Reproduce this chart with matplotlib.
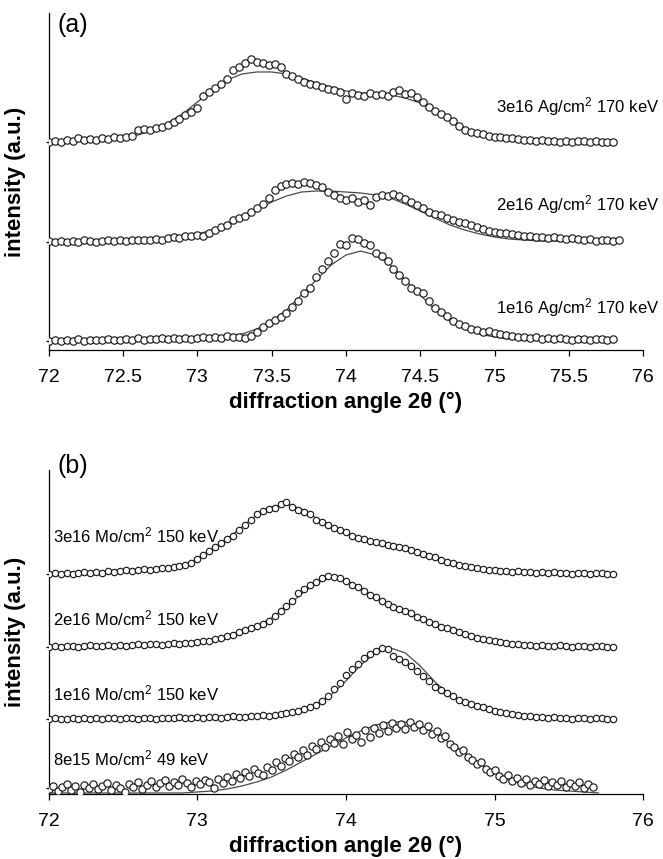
"""Stacked XRD peaks for Ag and Mo implanted samples, panels (a) and (b)."""

import numpy as np
import matplotlib
matplotlib.use("Agg")
import matplotlib.pyplot as plt
from matplotlib.ticker import FormatStrFormatter

plt.rcParams["font.family"] = ["Liberation Sans", "DejaVu Sans"]
plt.rcParams["mathtext.fontset"] = "custom"
plt.rcParams["mathtext.rm"] = "Liberation Sans"
plt.rcParams["mathtext.it"] = "Liberation Sans:italic"
plt.rcParams["mathtext.bf"] = "Liberation Sans:bold"

# ---------------------------------------------------------------------------
# Data (intensity above each curve's own baseline, a.u.)
# ---------------------------------------------------------------------------

# measured points, 0.04 deg steps from 72.00
x_meas_96 = np.round(72.0 + 0.04 * np.arange(96), 2)
x_meas_97 = np.round(72.0 + 0.04 * np.arange(97), 2)
# 8e15 Mo run, 0.03 deg steps from 72.00
x_meas_8e15 = np.round(72.0 + 0.03 * np.arange(123), 2)
# fitted curves, 0.1 deg steps
x_fit = np.round(72.0 + 0.1 * np.arange(39), 1)
x_fit_8e15 = np.round(72.0 + 0.1 * np.arange(38), 1)

ag_3e16 = [
    0.00, 0.01, 0.00, 0.02, 0.01, 0.04, 0.02, 0.03, 0.02, 0.04,
    0.03, 0.05, 0.04, 0.05, 0.06, 0.12, 0.13, 0.12, 0.14, 0.15,
    0.17, 0.20, 0.23, 0.27, 0.30, 0.34, 0.46, 0.50, 0.54, 0.58,
    0.63, 0.72, 0.75, 0.79, 0.83, 0.80, 0.79, 0.77, 0.78, 0.75,
    0.68, 0.66, 0.63, 0.60, 0.58, 0.57, 0.55, 0.53, 0.52, 0.50,
    0.43, 0.49, 0.47, 0.46, 0.49, 0.47, 0.48, 0.46, 0.50, 0.52,
    0.48, 0.49, 0.45, 0.40, 0.35, 0.31, 0.28, 0.25, 0.21, 0.16,
    0.12, 0.10, 0.09, 0.08, 0.06, 0.05, 0.05, 0.04, 0.04, 0.03,
    0.02, 0.02, 0.01, 0.02, 0.01, 0.01, 0.00, 0.01, 0.00, 0.01,
    0.01, 0.00, 0.01, 0.00, 0.00, 0.00,
]
ag_3e16_fit = [
    0.00, 0.00, 0.01, 0.01, 0.02, 0.04, 0.07, 0.12, 0.19, 0.28,
    0.40, 0.52, 0.62, 0.68, 0.70, 0.70, 0.68, 0.64, 0.59, 0.55,
    0.51, 0.49, 0.48, 0.47, 0.44, 0.39, 0.31, 0.22, 0.14, 0.08,
    0.04, 0.02, 0.01, 0.00, 0.00, 0.00, 0.00, 0.00, 0.00,
]

ag_2e16 = [
    0.01, 0.00, 0.01, 0.00, 0.01, 0.00, 0.02, 0.01, 0.00, 0.01,
    0.02, 0.01, 0.02, 0.01, 0.02, 0.02, 0.02, 0.02, 0.03, 0.02,
    0.04, 0.05, 0.04, 0.06, 0.06, 0.07, 0.06, 0.09, 0.12, 0.15,
    0.17, 0.22, 0.24, 0.26, 0.30, 0.34, 0.38, 0.44, 0.52, 0.56,
    0.58, 0.59, 0.58, 0.60, 0.59, 0.57, 0.55, 0.50, 0.47, 0.44,
    0.42, 0.44, 0.40, 0.42, 0.37, 0.45, 0.47, 0.46, 0.48, 0.46,
    0.43, 0.40, 0.37, 0.34, 0.30, 0.28, 0.27, 0.24, 0.22, 0.20,
    0.19, 0.17, 0.15, 0.13, 0.11, 0.10, 0.09, 0.09, 0.08, 0.07,
    0.06, 0.06, 0.05, 0.05, 0.04, 0.05, 0.04, 0.03, 0.04, 0.03,
    0.02, 0.03, 0.01, 0.02, 0.02, 0.01, 0.02,
]
ag_2e16_fit = [
    0.00, 0.00, 0.00, 0.01, 0.01, 0.01, 0.02, 0.03, 0.04, 0.06,
    0.08, 0.12, 0.17, 0.24, 0.32, 0.40, 0.46, 0.50, 0.51, 0.51,
    0.50, 0.49, 0.47, 0.44, 0.38, 0.31, 0.24, 0.17, 0.12, 0.08,
    0.05, 0.03, 0.02, 0.01, 0.01, 0.01, 0.00, 0.00, 0.00,
]

ag_1e16 = [
    0.00, 0.01, 0.00, 0.01, 0.00, 0.02, 0.00, 0.01, 0.01, 0.01,
    0.02, 0.01, 0.01, 0.02, 0.01, 0.03, 0.01, 0.02, 0.02, 0.03,
    0.02, 0.03, 0.02, 0.03, 0.02, 0.03, 0.04, 0.03, 0.04, 0.03,
    0.05, 0.04, 0.04, 0.03, 0.05, 0.09, 0.14, 0.18, 0.21, 0.24,
    0.28, 0.34, 0.40, 0.48, 0.53, 0.64, 0.72, 0.80, 0.88, 0.97,
    0.96, 1.03, 1.02, 0.98, 0.96, 0.88, 0.85, 0.80, 0.72, 0.66,
    0.60, 0.53, 0.50, 0.48, 0.40, 0.33, 0.29, 0.25, 0.20, 0.17,
    0.15, 0.12, 0.11, 0.09, 0.10, 0.08, 0.07, 0.06, 0.05, 0.04,
    0.04, 0.03, 0.04, 0.02, 0.03, 0.02, 0.03, 0.02, 0.01, 0.02,
    0.02, 0.01, 0.02, 0.02, 0.01, 0.02,
]
ag_1e16_fit = [
    0.01, 0.01, 0.01, 0.01, 0.01, 0.01, 0.01, 0.01, 0.01, 0.01,
    0.01, 0.02, 0.04, 0.07, 0.12, 0.20, 0.31, 0.46, 0.61, 0.76,
    0.86, 0.90, 0.86, 0.76, 0.61, 0.46, 0.31, 0.20, 0.12, 0.07,
    0.04, 0.02, 0.01, 0.01, 0.01, 0.01, 0.01, 0.01, 0.01,
]

mo_3e16 = [
    0.00, 0.01, 0.00, 0.01, 0.00, 0.01, 0.02, 0.01, 0.02, 0.01,
    0.03, 0.02, 0.03, 0.04, 0.03, 0.04, 0.05, 0.04, 0.05, 0.06,
    0.06, 0.07, 0.08, 0.09, 0.11, 0.15, 0.19, 0.23, 0.27, 0.31,
    0.35, 0.38, 0.44, 0.49, 0.54, 0.60, 0.63, 0.65, 0.66, 0.70,
    0.72, 0.67, 0.64, 0.62, 0.60, 0.54, 0.52, 0.49, 0.46, 0.44,
    0.42, 0.38, 0.36, 0.35, 0.33, 0.32, 0.31, 0.29, 0.28, 0.27,
    0.26, 0.24, 0.22, 0.20, 0.18, 0.17, 0.14, 0.12, 0.11, 0.09,
    0.08, 0.07, 0.06, 0.05, 0.04, 0.04, 0.03, 0.03, 0.02, 0.03,
    0.02, 0.02, 0.01, 0.02, 0.01, 0.02, 0.01, 0.01, 0.00, 0.01,
    0.01, 0.00, 0.01, 0.01, 0.00, 0.00,
]
mo_3e16_fit = [
    0.00, 0.01, 0.01, 0.01, 0.02, 0.03, 0.04, 0.05, 0.07, 0.09,
    0.14, 0.24, 0.35, 0.47, 0.59, 0.67, 0.70, 0.65, 0.56, 0.48,
    0.41, 0.36, 0.32, 0.29, 0.25, 0.21, 0.16, 0.12, 0.08, 0.05,
    0.04, 0.03, 0.02, 0.01, 0.01, 0.00, 0.00, 0.00, 0.00,
]

mo_2e16 = [
    0.00, 0.01, 0.00, 0.01, 0.01, 0.00, 0.01, 0.02, 0.01, 0.01,
    0.02, 0.01, 0.02, 0.01, 0.02, 0.03, 0.02, 0.03, 0.03, 0.02,
    0.03, 0.04, 0.03, 0.04, 0.04, 0.05, 0.06, 0.06, 0.08, 0.09,
    0.11, 0.12, 0.15, 0.17, 0.19, 0.21, 0.23, 0.26, 0.31, 0.36,
    0.41, 0.46, 0.54, 0.58, 0.62, 0.65, 0.69, 0.71, 0.70, 0.69,
    0.66, 0.62, 0.60, 0.56, 0.52, 0.50, 0.46, 0.43, 0.40, 0.38,
    0.36, 0.34, 0.30, 0.28, 0.25, 0.23, 0.20, 0.19, 0.17, 0.15,
    0.13, 0.11, 0.09, 0.08, 0.07, 0.06, 0.05, 0.04, 0.03, 0.03,
    0.02, 0.02, 0.01, 0.02, 0.01, 0.01, 0.02, 0.01, 0.00, 0.01,
    0.01, 0.00, 0.01, 0.01, 0.00, 0.00,
]
mo_2e16_fit = [
    0.00, 0.01, 0.01, 0.01, 0.01, 0.01, 0.02, 0.02, 0.03, 0.03,
    0.05, 0.07, 0.10, 0.15, 0.21, 0.29, 0.40, 0.53, 0.64, 0.69,
    0.67, 0.59, 0.49, 0.41, 0.35, 0.29, 0.23, 0.17, 0.12, 0.08,
    0.05, 0.03, 0.02, 0.01, 0.01, 0.01, 0.00, 0.00, 0.00,
]

mo_1e16 = [
    0.00, 0.01, 0.00, 0.00, 0.01, 0.00, 0.01, 0.00, 0.01, 0.00,
    0.01, 0.01, 0.00, 0.01, 0.01, 0.00, 0.01, 0.01, 0.00, 0.01,
    0.01, 0.01, 0.02, 0.01, 0.01, 0.02, 0.01, 0.02, 0.02, 0.01,
    0.02, 0.03, 0.02, 0.02, 0.03, 0.03, 0.04, 0.03, 0.04, 0.05,
    0.06, 0.07, 0.08, 0.10, 0.12, 0.14, 0.18, 0.23, 0.30, 0.36,
    0.44, 0.50, 0.55, 0.61, 0.65, 0.68, 0.71, 0.70, 0.63, 0.60,
    0.57, 0.53, 0.48, 0.43, 0.38, 0.32, 0.29, 0.26, 0.23, 0.19,
    0.17, 0.15, 0.13, 0.12, 0.10, 0.08, 0.07, 0.06, 0.05, 0.04,
    0.03, 0.03, 0.02, 0.02, 0.01, 0.02, 0.01, 0.01, 0.00, 0.01,
    0.01, 0.00, 0.01, 0.01, 0.00, 0.00,
]
mo_1e16_fit = [
    0.00, 0.00, 0.00, 0.00, 0.00, 0.00, 0.00, 0.00, 0.00, 0.00,
    0.00, 0.00, 0.01, 0.01, 0.02, 0.03, 0.05, 0.08, 0.14, 0.24,
    0.38, 0.54, 0.66, 0.71, 0.66, 0.53, 0.37, 0.24, 0.16, 0.11,
    0.07, 0.05, 0.03, 0.02, 0.01, 0.01, 0.01, 0.00, 0.00,
]

mo_8e15 = [
    0.05, 0.08, 0.03, 0.07, 0.10, 0.04, 0.08, 0.02, 0.09, 0.06,
    0.10, 0.05, 0.08, 0.11, 0.04, 0.09, 0.06, 0.02, 0.10, 0.07,
    0.12, 0.05, 0.09, 0.13, 0.07, 0.11, 0.14, 0.08, 0.12, 0.09,
    0.15, 0.11, 0.07, 0.13, 0.10, 0.14, 0.12, 0.06, 0.15, 0.11,
    0.17, 0.13, 0.20, 0.16, 0.22, 0.18, 0.25, 0.21, 0.19, 0.27,
    0.24, 0.32, 0.28, 0.36, 0.33, 0.40, 0.37, 0.44, 0.39, 0.48,
    0.45, 0.52, 0.47, 0.55, 0.51, 0.58, 0.50, 0.62, 0.55, 0.59,
    0.52, 0.64, 0.57, 0.66, 0.61, 0.69, 0.63, 0.71, 0.66, 0.70,
    0.65, 0.72, 0.67, 0.70, 0.64, 0.68, 0.60, 0.63, 0.56, 0.58,
    0.50, 0.47, 0.42, 0.44, 0.37, 0.34, 0.30, 0.32, 0.25, 0.22,
    0.24, 0.18, 0.15, 0.19, 0.13, 0.16, 0.11, 0.15, 0.09, 0.13,
    0.10, 0.14, 0.08, 0.12, 0.09, 0.13, 0.07, 0.11, 0.08, 0.12,
    0.06, 0.10, 0.07,
]
mo_8e15_fit = [
    0.01, 0.01, 0.01, 0.01, 0.01, 0.01, 0.01, 0.01, 0.01, 0.01,
    0.02, 0.03, 0.05, 0.08, 0.12, 0.17, 0.24, 0.32, 0.40, 0.48,
    0.56, 0.63, 0.69, 0.72, 0.72, 0.68, 0.61, 0.51, 0.41, 0.30,
    0.21, 0.14, 0.09, 0.06, 0.04, 0.03, 0.02, 0.01,
]

# baseline offsets used to stack the curves
offsets_a = [2.08, 1.08, 0.09]
offsets_b = [2.20, 1.47, 0.75, 0.0]

labels_a = [
    "3e16 Ag/cm$^{2}$ 170 keV",
    "2e16 Ag/cm$^{2}$ 170 keV",
    "1e16 Ag/cm$^{2}$ 170 keV",
]
labels_b = [
    "3e16 Mo/cm$^{2}$ 150 keV",
    "2e16 Mo/cm$^{2}$ 150 keV",
    "1e16 Mo/cm$^{2}$ 150 keV",
    "8e15 Mo/cm$^{2}$ 49 keV",
]
label_y_a = [2.43, 1.45, 0.42]
label_y_b = [2.59, 1.76, 1.01, 0.36]

series_a = [
    (x_meas_96, ag_3e16, x_fit, ag_3e16_fit),
    (x_meas_97, ag_2e16, x_fit, ag_2e16_fit),
    (x_meas_96, ag_1e16, x_fit, ag_1e16_fit),
]
series_b = [
    (x_meas_96, mo_3e16, x_fit, mo_3e16_fit),
    (x_meas_96, mo_2e16, x_fit, mo_2e16_fit),
    (x_meas_96, mo_1e16, x_fit, mo_1e16_fit),
    (x_meas_8e15, mo_8e15, x_fit_8e15, mo_8e15_fit),
]
marker_sizes_a = [5.3, 5.3, 5.3]
marker_sizes_b = [4.6, 4.6, 4.6, 5.2]


def draw_panel(ax, series, offsets, msizes):
    for (xm, ym, xf, yf), off, ms in zip(series, offsets, msizes):
        ax.plot(xf, np.asarray(yf) + off, color="#4a4a4a", lw=0.9, zorder=2)
        ax.plot(xm, np.asarray(ym) + off, linestyle="none", marker="o",
                ms=ms, mfc="white", mec="#1a1a1a", mew=0.85, zorder=3)


def style_axes(ax, ylim, xticks):
    ax.set_xlim(72, 76)
    ax.set_ylim(*ylim)
    for side in ("top", "right"):
        ax.spines[side].set_visible(False)
    for side in ("left", "bottom"):
        ax.spines[side].set_linewidth(0.9)
    ax.set_xticks(xticks)
    ax.xaxis.set_major_formatter(FormatStrFormatter("%g"))
    ax.tick_params(axis="x", direction="out", length=4.5, width=0.9,
                   labelsize=14, pad=9)
    ax.tick_params(axis="y", direction="out", length=2, width=0.9,
                   labelleft=False)
    ax.set_xlabel("diffraction angle 2\u03b8 (\u00b0)", fontsize=16,
                  fontweight="bold")
    ax.set_ylabel("intensity (a.u.)", fontsize=16, fontweight="bold")


fig = plt.figure(figsize=(6.63, 8.59), dpi=100)
ax_a = fig.add_axes([0.0735, 0.5925, 0.8965, 0.3924])
ax_b = fig.add_axes([0.0735, 0.0757, 0.8965, 0.3772])

draw_panel(ax_a, series_a, offsets_a, marker_sizes_a)
style_axes(ax_a, (0, 3.37), np.arange(72, 76.01, 0.5))
ax_a.set_yticks(offsets_a)
for txt, yy in zip(labels_a, label_y_a):
    ax_a.text(75.01, yy, txt, fontsize=12, ha="left", va="center")
ax_a.xaxis.set_label_coords(0.5, -0.125)
ax_a.yaxis.set_label_coords(-0.038, 0.5)

draw_panel(ax_b, series_b, offsets_b, marker_sizes_b)
style_axes(ax_b, (0, 3.24), np.arange(72, 76.01, 1.0))
ax_b.set_yticks([2.20, 1.47, 0.75, 0.06])
for txt, yy in zip(labels_b, label_y_b):
    ax_b.text(72.03, yy, txt, fontsize=12, ha="left", va="center")
ax_b.xaxis.set_label_coords(0.5, -0.13)
ax_b.yaxis.set_label_coords(-0.038, 0.5)

fig.text(0.086, 0.971, "(a)", fontsize=18, ha="left", va="center")
fig.text(0.086, 0.4575, "(b)", fontsize=18, ha="left", va="center")

fig.savefig("out.png", dpi=100, facecolor="white")
